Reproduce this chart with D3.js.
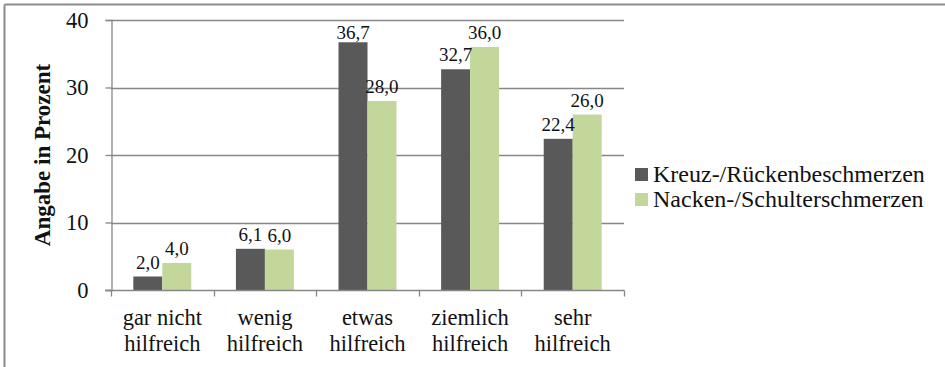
<!DOCTYPE html>
<html>
<head>
<meta charset="utf-8">
<script src="https://cdn.jsdelivr.net/npm/d3@7"></script>
<style>
  html, body { margin: 0; padding: 0; background: #fff; }
  svg { display: block; }
</style>
</head>
<body>
<svg id="chart" width="945" height="367"></svg>
<script>
// Categories (two-line labels) and the two series, in percent
const categories = ["gar nicht hilfreich", "wenig hilfreich", "etwas hilfreich", "ziemlich hilfreich", "sehr hilfreich"];
const categoryLines = [["gar nicht", "hilfreich"], ["wenig", "hilfreich"], ["etwas", "hilfreich"], ["ziemlich", "hilfreich"], ["sehr", "hilfreich"]];
const seriesNames = ["Kreuz-/Rückenbeschmerzen", "Nacken-/Schulterschmerzen"];
const kreuzValues = [2.0, 6.1, 36.7, 32.7, 22.4];
const nackenValues = [4.0, 6.0, 28.0, 36.0, 26.0];
const yTicks = [0, 10, 20, 30, 40];
const axisTitle = "Angabe in Prozent";

const FONT = "'Liberation Serif', 'Times New Roman', Times, serif";
const colors = ["#595959", "#c4d79b"];
const gridColor = "#878787";

const svg = d3.select("#chart");

// outer frame (top and left edges visible)
svg.append("line").attr("x1", 4.5).attr("x2", 945).attr("y1", 4.5).attr("y2", 4.5)
  .attr("stroke", "#8c8c8c").attr("stroke-width", 2);
svg.append("line").attr("x1", 4.5).attr("x2", 4.5).attr("y1", 4.5).attr("y2", 367)
  .attr("stroke", "#8c8c8c").attr("stroke-width", 2);

const plot = { left: 111, right: 624, top: 20, bottom: 290 };

const x = d3.scaleBand().domain(categories).range([plot.left, plot.right]).paddingInner(0).paddingOuter(0);
const inner = d3.scaleBand().domain(seriesNames).range([0, x.bandwidth()]).paddingInner(0).paddingOuter(0.77);
const y = d3.scaleLinear().domain([0, 40]).range([plot.bottom, plot.top]);

// horizontal gridlines
svg.append("g").selectAll("line").data(yTicks.filter(t => t > 0)).join("line")
  .attr("x1", plot.left).attr("x2", plot.right)
  .attr("y1", d => Math.round(y(d)) + 0.5).attr("y2", d => Math.round(y(d)) + 0.5)
  .attr("stroke", gridColor).attr("stroke-width", 1.3);

// y axis
const yAxis = svg.append("g").attr("transform", `translate(${plot.left + 0.5},0)`)
  .call(d3.axisLeft(y).tickValues(yTicks).tickSize(6).tickPadding(17).tickFormat(d3.format("d")));
yAxis.attr("font-family", FONT);
yAxis.select(".domain").attr("stroke", gridColor).attr("stroke-width", 1.3);
yAxis.selectAll(".tick line").attr("stroke", gridColor).attr("stroke-width", 1.3);
yAxis.selectAll(".tick text").attr("font-size", 22.5).attr("font-family", FONT).attr("fill", "#111");

// bars
const seriesData = [kreuzValues, nackenValues];
seriesData.forEach((vals, si) => {
  svg.append("g").selectAll("rect").data(vals).join("rect")
    .attr("x", (d, i) => x(categories[i]) + inner(seriesNames[si]))
    .attr("width", inner.bandwidth())
    .attr("y", d => y(d))
    .attr("height", d => y(0) - y(d))
    .attr("fill", colors[si]);
});

// x axis with category separators
const xAxis = svg.append("g").attr("transform", `translate(0,${plot.bottom + 0.5})`);
xAxis.append("line").attr("x1", plot.left - 6).attr("x2", plot.right + 0.5)
  .attr("stroke", gridColor).attr("stroke-width", 1.3);
const boundaries = categories.map(c => x(c)).concat([plot.right]);
xAxis.selectAll("line.tick").data(boundaries).join("line").attr("class", "tick")
  .attr("x1", d => Math.round(d) + 0.5).attr("x2", d => Math.round(d) + 0.5)
  .attr("y1", 0).attr("y2", 6)
  .attr("stroke", gridColor).attr("stroke-width", 1.3);

// category labels
const catG = svg.append("g");
categories.forEach((c, i) => {
  const t = catG.append("text")
    .attr("x", x(c) + x.bandwidth() / 2)
    .attr("text-anchor", "middle")
    .attr("font-family", FONT)
    .attr("font-size", 22.5)
    .attr("fill", "#111");
  categoryLines[i].forEach((ln, k) => {
    t.append("tspan").attr("x", x(c) + x.bandwidth() / 2).attr("y", 325 + k * 25.5).text(ln);
  });
});

// value labels
const fmt = v => d3.format(".1f")(v).replace(".", ",");
seriesData.forEach((vals, si) => {
  svg.append("g").selectAll("text").data(vals).join("text")
    .attr("x", (d, i) => x(categories[i]) + inner(seriesNames[si]) + inner.bandwidth() / 2)
    .attr("y", d => Math.max(y(d) - 8, plot.top + 19))
    .attr("text-anchor", "middle")
    .attr("font-family", FONT)
    .attr("font-size", 19)
    .attr("fill", "#111")
    .text(d => fmt(d));
});

// y axis title
svg.append("text")
  .attr("transform", `translate(50,${(plot.top + plot.bottom) / 2}) rotate(-90)`)
  .attr("text-anchor", "middle")
  .attr("font-family", FONT)
  .attr("font-size", 23)
  .attr("font-weight", "bold")
  .attr("fill", "#111")
  .text(axisTitle);

// legend
const legend = svg.append("g").attr("transform", "translate(635,168)");
seriesNames.forEach((s, i) => {
  const g = legend.append("g").attr("transform", `translate(0,${i * 25})`);
  g.append("rect").attr("width", 13).attr("height", 13).attr("fill", colors[i]);
  g.append("text").attr("x", 18).attr("y", 14)
    .attr("font-family", FONT).attr("font-size", 24).attr("fill", "#111").text(s);
});
</script>
</body>
</html>
